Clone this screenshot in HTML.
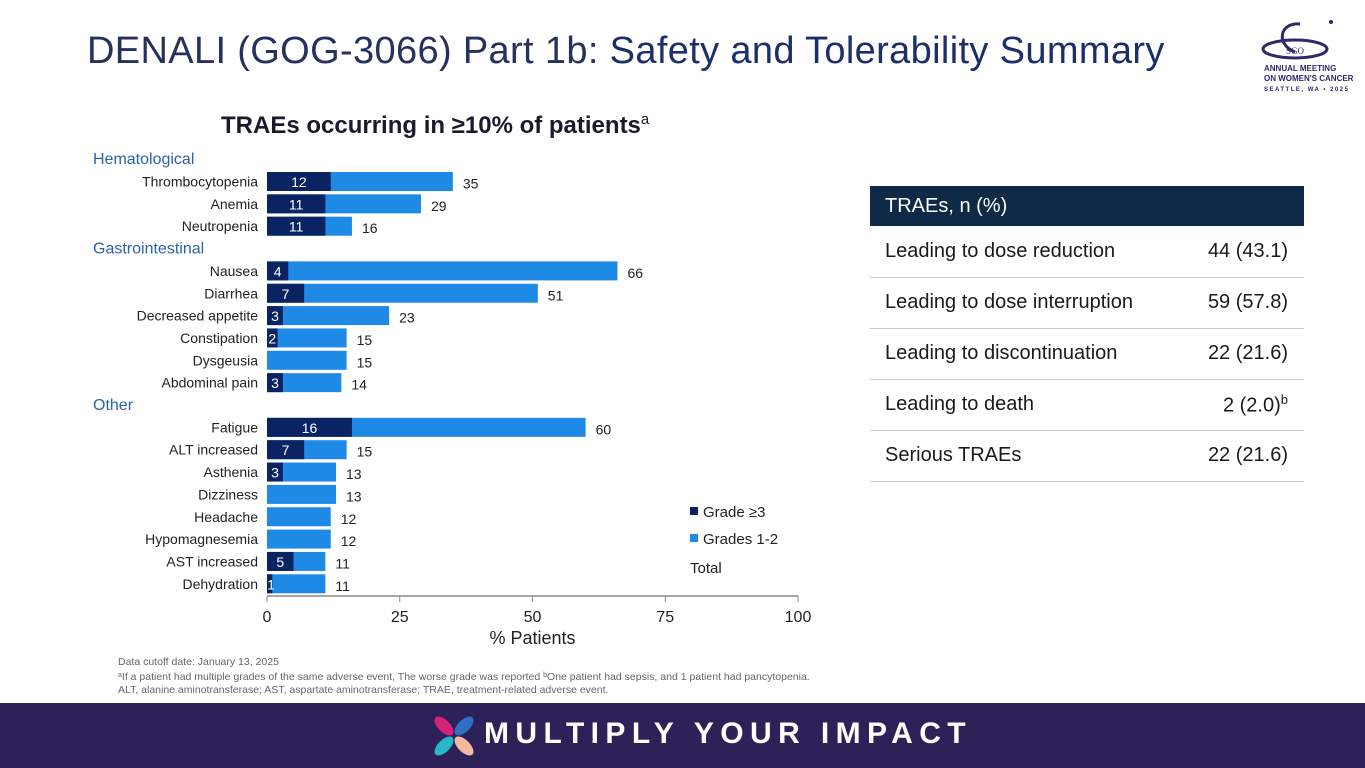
<!DOCTYPE html>
<html><head><meta charset="utf-8"><style>
body{margin:0;width:1365px;height:768px;background:#fff;font-family:"Liberation Sans",sans-serif;position:relative;overflow:hidden}
.t{position:absolute;white-space:nowrap}
table{border-collapse:collapse}
</style></head><body>
<div class="t" style="left:87px;top:30px;font-size:38px;color:#27305e;letter-spacing:0.35px">DENALI (GOG-3066) Part 1b: <span style="color:#1c2f6b">Safety and Tolerability Summary</span></div>
<div style="position:absolute;left:1255px;top:14px;width:100px;height:88px">
<svg width="100" height="50" viewBox="0 0 100 50"><ellipse cx="40" cy="35" rx="32" ry="9" fill="none" stroke="#2c2a6b" stroke-width="3"/><path d="M45 10 C25 8 20 30 40 38" fill="none" stroke="#2c2a6b" stroke-width="3"/><circle cx="76" cy="8" r="2" fill="#2c2a6b"/><text x="40" y="40" font-size="9" text-anchor="middle" fill="#2c2a6b" font-family="Liberation Serif">SGO</text></svg>
<div class="t" style="left:9px;top:50px;font-size:8px;font-weight:bold;color:#2c2a6b;line-height:10px">ANNUAL MEETING<br>ON WOMEN'S CANCER<br><span style="font-size:6px;letter-spacing:1.5px">SEATTLE, WA • 2025</span></div></div>
<div class="t" style="left:221px;top:111px;font-size:24px;font-weight:bold;color:#1a1a2e">TRAEs occurring in ≥10% of patients<sup style="font-weight:normal;font-size:15px">a</sup></div>
<svg id="chart" width="860" height="660" style="position:absolute;left:0;top:0"></svg>
<table style="position:absolute;left:870px;top:186px;width:434px;font-size:20px;color:#1a1a1a">
<tr style="background:#0f2a47;color:#fff;height:40px"><td style="padding-left:15px" colspan="2">TRAEs, n (%)</td></tr>
<tr style="height:51px;border-bottom:1px solid #ccc"><td style="padding-left:15px">Leading to dose reduction</td><td style="text-align:right;padding-right:16px">44 (43.1)</td></tr>
<tr style="height:51px;border-bottom:1px solid #ccc"><td style="padding-left:15px">Leading to dose interruption</td><td style="text-align:right;padding-right:16px">59 (57.8)</td></tr>
<tr style="height:51px;border-bottom:1px solid #ccc"><td style="padding-left:15px">Leading to discontinuation</td><td style="text-align:right;padding-right:16px">22 (21.6)</td></tr>
<tr style="height:51px;border-bottom:1px solid #ccc"><td style="padding-left:15px">Leading to death</td><td style="text-align:right;padding-right:16px">2 (2.0)<sup style="font-size:13px">b</sup></td></tr>
<tr style="height:51px;border-bottom:1px solid #ccc"><td style="padding-left:15px">Serious TRAEs</td><td style="text-align:right;padding-right:16px">22 (21.6)</td></tr>
</table>
<div class="t" style="left:118px;top:656px;font-size:10.5px;color:#666;line-height:13px">Data cutoff date: January 13, 2025<br><span style="font-size:7px;vertical-align:3px">a</span>If a patient had multiple grades of the same adverse event, The worse grade was reported <span style="font-size:7px;vertical-align:3px">b</span>One patient had sepsis, and 1 patient had pancytopenia.<br>ALT, alanine aminotransferase; AST, aspartate aminotransferase; TRAE, treatment-related adverse event.</div>
<div style="position:absolute;left:0;top:703px;width:1365px;height:65px;background:#2e2158">
<svg style="position:absolute;left:432px;top:11px" width="44" height="44" viewBox="0 0 44 44"><ellipse cx="12" cy="12" rx="12" ry="6" transform="rotate(45 12 12)" fill="#d6237a"/><ellipse cx="32" cy="12" rx="12" ry="6" transform="rotate(-45 32 12)" fill="#2f6fc4"/><ellipse cx="12" cy="32" rx="12" ry="6" transform="rotate(-45 12 32)" fill="#27b7c9"/><ellipse cx="32" cy="32" rx="12" ry="6" transform="rotate(45 32 32)" fill="#f5b8a0"/></svg>
<div class="t" style="left:484px;top:14px;font-size:30px;font-weight:bold;color:#fff;letter-spacing:6.4px">MULTIPLY YOUR IMPACT</div></div>
<script>
const categories=["Thrombocytopenia","Anemia","Neutropenia","Nausea","Diarrhea","Decreased appetite","Constipation","Dysgeusia","Abdominal pain","Fatigue","ALT increased","Asthenia","Dizziness","Headache","Hypomagnesemia","AST increased","Dehydration"];
const slots=[0,1,2,4,5,6,7,8,9,11,12,13,14,15,16,17,18];
const grade3=[12,11,11,4,7,3,2,0,3,16,7,3,0,0,0,5,1];
const totals=[35,29,16,66,51,23,15,15,14,60,15,13,13,12,12,11,11];
const groups=["Hematological","Gastrointestinal","Other"];
const groupSlots=[-1,3,10];
const ticks=[0,25,50,75,100];
const svg=document.getElementById('chart'),NS='http://www.w3.org/2000/svg';
const x=v=>267+v*5.31, y=s=>181.5+s*22.35;
function el(t,a,txt){const e=document.createElementNS(NS,t);for(const k in a)e.setAttribute(k,a[k]);if(txt!=null)e.textContent=txt;svg.appendChild(e);return e;}
const F='Liberation Sans, sans-serif';
groups.forEach((g,i)=>{const e=el('text',{x:93,y:y(groupSlots[i])+5,'font-size':16,fill:'#2a63ad','font-family':F},g);

});
categories.forEach((c,i)=>{const cy=y(slots[i]);
const l=el('text',{x:258,y:cy+5,'font-size':14,'text-anchor':'end',fill:'#222','font-family':F},c);


const b=el('rect',{x:x(0),y:cy-9.5,width:x(totals[i])-x(0),height:19,fill:'#1e8ae6'});


if(grade3[i]>0){const d=el('rect',{x:x(0),y:cy-9.5,width:x(grade3[i])-x(0),height:19,fill:'#0a2463'});


const dl=el('text',{x:Math.max((x(0)+x(grade3[i]))/2,x(0)+4),y:cy+5.5,'font-size':14,'text-anchor':'middle',fill:'#fff','font-family':F},grade3[i]);

}
const tl=el('text',{x:x(totals[i])+10,y:cy+7,'font-size':14,fill:'#222','font-family':F},totals[i]);

});
const ax=el('line',{x1:x(0),x2:x(100),y1:596,y2:596,stroke:'#888','stroke-width':1.5});


ticks.forEach(t=>{el('line',{x1:x(t),x2:x(t),y1:596,y2:602,stroke:'#888'});
const tt=el('text',{x:x(t),y:622,'font-size':16,'text-anchor':'middle',fill:'#222','font-family':F},t);

});
const xt=el('text',{x:x(50),y:644,'font-size':18,'text-anchor':'middle',fill:'#222','font-family':F},'% Patients');


[['#0a2463','Grade ≥3',512],['#1e8ae6','Grades 1-2',539]].forEach(([c,t,yy])=>{el('rect',{x:690,y:yy-5,width:8,height:8,fill:c});
const lt=el('text',{x:703,y:yy+5,'font-size':15,fill:'#222','font-family':F},t);

});
const tot=el('text',{x:690,y:573,'font-size':15,fill:'#222','font-family':F},'Total');


</script>
</body></html>
